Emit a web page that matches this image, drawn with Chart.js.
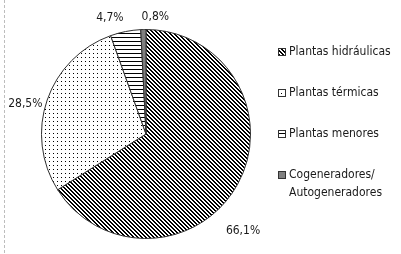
<!DOCTYPE html>
<html>
<head>
<meta charset="utf-8">
<script src="https://cdn.jsdelivr.net/npm/chart.js@4.4.1/dist/chart.umd.min.js"></script>
<style>
  html, body { margin: 0; padding: 0; background: #fff; }
  #wrap { position: relative; width: 401px; height: 254px; }
</style>
</head>
<body>
<div id="wrap"><canvas id="pie" width="401" height="254"></canvas></div>
<script>
'use strict';

// ── Data ─────────────────────────────────────────────────
const categories = ['Plantas hidráulicas', 'Plantas térmicas', 'Plantas menores', 'Cogeneradores/\nAutogeneradores'];
const shares     = [66.1, 28.5, 4.7, 0.8];
const valueLabels = ['66,1%', '28,5%', '4,7%', '0,8%'];

const FONT = "12px 'Liberation Sans Narrow', 'DejaVu Sans Condensed', sans-serif";
const INK  = '#1a1a1a';

// ── Fill patterns (drawn pixel by pixel on small tiles) ───
const makeTile = (w, h, paint) => {
    const c = document.createElement('canvas');
    c.width = w; c.height = h;
    const g = c.getContext('2d');
    g.fillStyle = '#fff';
    g.fillRect(0, 0, w, h);
    g.fillStyle = '#000';
    paint(g);
    return c;
};
const ctx = document.getElementById('pie').getContext('2d');

const diagTile = makeTile(4, 4, g => {
    for (let i = 0; i < 4; i++) { g.fillRect(i, i, 1, 1); g.fillRect((i + 1) % 4, i, 1, 1); }
});
const dotTile = makeTile(4, 4, g => g.fillRect(1, 1, 1, 1));
const lineTile = makeTile(4, 4, g => g.fillRect(0, 1, 4, 1));

const fills = [
    ctx.createPattern(diagTile, 'repeat'),
    ctx.createPattern(dotTile, 'repeat'),
    ctx.createPattern(lineTile, 'repeat'),
    '#808080'
];

// ── Outside percentage labels ─────────────────────────────
// small angle / distance nudges to mimic the "best fit" placement
const LABEL_NUDGE = [
    { da: 16, k: 1.31 },
    { da: -5, k: 1.19 },
    { da: -6, k: 1.16 },
    { da: 6,  k: 1.12 }
];
const pctLabels = {
    id: 'pctLabels',
    afterDatasetsDraw(chart) {
        const g = chart.ctx;
        const arcs = chart.getDatasetMeta(0).data;
        g.save();
        g.font = FONT;
        g.fillStyle = INK;
        g.textAlign = 'center';
        g.textBaseline = 'middle';
        arcs.forEach((arc, i) => {
            const { x, y, startAngle, endAngle, outerRadius } = arc.getProps(['x', 'y', 'startAngle', 'endAngle', 'outerRadius'], true);
            const n = LABEL_NUDGE[i];
            const a = (startAngle + endAngle) / 2 + n.da * Math.PI / 180;
            g.fillText(valueLabels[i], x + Math.cos(a) * outerRadius * n.k, y + Math.sin(a) * outerRadius * n.k);
        });
        g.restore();
    }
};

// ── Legend on the right ───────────────────────────────────
const sideLegend = {
    id: 'sideLegend',
    afterDraw(chart) {
        const g = chart.ctx;
        const x0 = 278, ys = [52, 93, 134, 175];
        g.save();
        g.font = FONT;
        g.textBaseline = 'middle';
        categories.forEach((name, i) => {
            const y = ys[i];
            g.fillStyle = fills[i];
            g.fillRect(x0, y - 4, 8, 8);
            g.strokeStyle = '#333';
            g.lineWidth = 1;
            g.strokeRect(x0 + 0.5, y - 3.5, 7, 7);
            g.fillStyle = INK;
            name.split('\n').forEach((ln, j) => g.fillText(ln, x0 + 11, y + j * 18));
        });
        // dashed frame edge on the left
        g.strokeStyle = '#bdbdbd';
        g.setLineDash([3, 2]);
        g.beginPath();
        g.moveTo(4.5, 0);
        g.lineTo(4.5, 254);
        g.stroke();
        g.restore();
    }
};

new Chart(ctx, {
    type: 'pie',
    data: {
        labels: categories,
        datasets: [{
            data: shares,
            backgroundColor: fills,
            borderColor: '#303030',
            borderWidth: 1,
            hoverOffset: 0
        }]
    },
    options: {
        responsive: false,
        animation: false,
        rotation: 0,
        layout: { padding: { left: 41, right: 150, top: 29, bottom: 15 } },
        plugins: {
            legend: { display: false },
            tooltip: { enabled: false }
        }
    },
    plugins: [pctLabels, sideLegend]
});
</script>
</body>
</html>
